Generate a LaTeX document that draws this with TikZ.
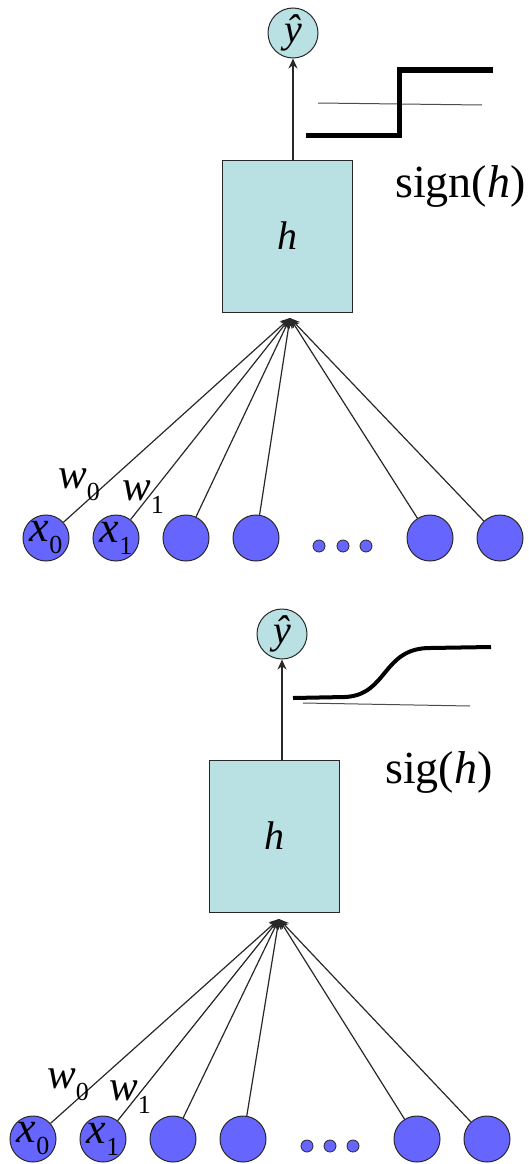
\documentclass[tikz,border=0pt]{standalone}
\usepackage{fontspec}
\setmainfont{Liberation Serif}
\usetikzlibrary{arrows.meta}
\definecolor{inblue}{RGB}{102,102,255}
\definecolor{boxcyan}{RGB}{185,224,226}
\definecolor{edgegray}{RGB}{40,40,40}
\newcommand{\fsz}[1]{\fontsize{#1}{#1}\selectfont}
\newcommand{\lowsub}[2]{\raisebox{-#1}{\upshape\fsz{26}#2}}
\begin{document}
\begin{tikzpicture}[x=1pt,y=-1pt,
  inp/.style={circle,draw=edgegray,fill=inblue,line width=1pt,minimum size=46pt,inner sep=0pt,font=\fsz{44}\itshape},
  dotn/.style={circle,draw=edgegray,fill=inblue,line width=0.8pt,minimum size=12pt,inner sep=0pt},
  outn/.style={circle,draw=edgegray,fill=boxcyan,line width=1pt,minimum size=50pt,inner sep=0pt,font=\fsz{40}\itshape},
  hbox/.style={rectangle,draw=edgegray,fill=boxcyan,line width=1pt,minimum width=130pt,minimum height=152pt,inner sep=0pt,font=\fsz{40}\itshape},
  conn/.style={draw=edgegray,line width=1.2pt,-{Stealth[length=10pt,width=9pt]}},
  wlab/.style={anchor=base west,inner sep=0pt,font=\fsz{43}\itshape},
  fnlab/.style={anchor=base west,inner sep=0pt,font=\fsz{46}},
  thickcurve/.style={draw=black,line width=5pt},
  axisline/.style={draw=black!70,line width=1pt}
]
\useasboundingbox (0,0) rectangle (529,1164);

% ---------- top panel ----------
\node[hbox] (hA) at (287,236) {h};
\node[outn] (yA) at (293,33) {ŷ};
\coordinate (apA) at (290,318);
\draw[conn] (hA.north -| yA) -- (yA);

\node[inp] (a1) at (46,538) {x\lowsub{12pt}{0}};
\node[inp] (a2) at (116,538) {x\lowsub{12pt}{1}};
\node[inp] (a3) at (186,538) {};
\node[inp] (a4) at (256,538) {};
\node[inp] (a5) at (430,538) {};
\node[inp] (a6) at (500,538) {};
\node[dotn] (ad1) at (319,546) {};
\node[dotn] (ad2) at (343,546) {};
\node[dotn] (ad3) at (366,546) {};
\foreach \n in {a1,a2,a3,a4,a5,a6} \draw[conn] (\n) -- (apA);

\node[wlab] (wA0) at (58,488) {w\lowsub{12pt}{0}};
\node[wlab] (wA1) at (122,500) {w\lowsub{13pt}{1}};

\draw[axisline] (318,103) -- (482,105);
\draw[thickcurve] (306,135) -- (399,135) -- (399,70) -- (493,70);
\node[fnlab] (sgn) at (395,197) {sign(\textit{h})};

% ---------- bottom panel ----------
\node[hbox] (hB) at (274,836) {h};
\node[outn] (yB) at (282,634) {ŷ};
\coordinate (apB) at (279,919);
\draw[conn] (hB.north -| yB) -- (yB);

\node[inp] (b1) at (33,1139) {x\lowsub{12pt}{0}};
\node[inp] (b2) at (103,1139) {x\lowsub{12pt}{1}};
\node[inp] (b3) at (173,1139) {};
\node[inp] (b4) at (243,1139) {};
\node[inp] (b5) at (417,1139) {};
\node[inp] (b6) at (487,1139) {};
\node[dotn] (bd1) at (307,1146) {};
\node[dotn] (bd2) at (330,1146) {};
\node[dotn] (bd3) at (353,1146) {};
\foreach \n in {b1,b2,b3,b4,b5,b6} \draw[conn] (\n) -- (apB);

\node[wlab] (wB0) at (47,1088) {w\lowsub{12pt}{0}};
\node[wlab] (wB1) at (109,1100) {w\lowsub{13pt}{1}};

\draw[axisline] (303,703) -- (470,706);
\draw[thickcurve,line width=4pt] (293,698) -- (345,697) .. controls (388,695) and (382,648) .. (430,648) -- (491,647);
\node[fnlab] (sig) at (385,783) {sig(\textit{h})};
\end{tikzpicture}
\end{document}
